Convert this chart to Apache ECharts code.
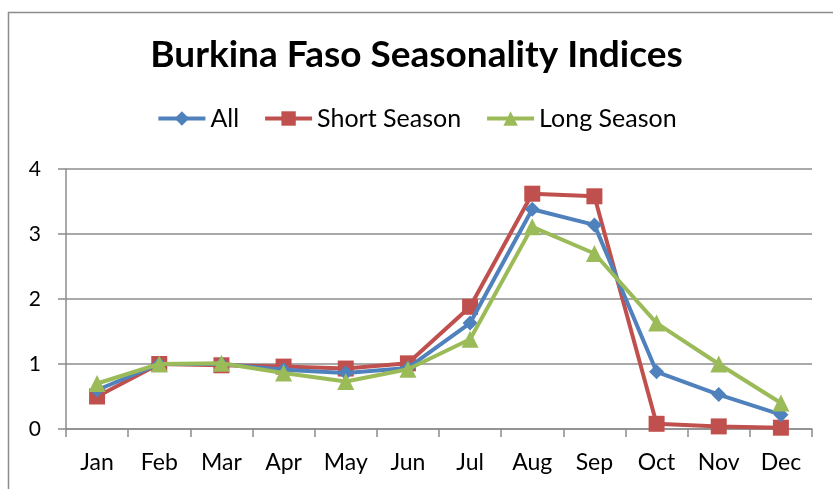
<!DOCTYPE html>
<html>
<head>
<meta charset="utf-8">
<script src="https://cdn.jsdelivr.net/npm/echarts@6/dist/echarts.min.js"></script>
<style>
html,body{margin:0;padding:0;background:#fff;}
#main{width:833px;height:489px;}
</style>
</head>
<body>
<div id="main"></div>
<script>
var months = ['Jan','Feb','Mar','Apr','May','Jun','Jul','Aug','Sep','Oct','Nov','Dec'];
var allVals = [0.60,1.00,1.00,0.91,0.86,0.94,1.63,3.38,3.14,0.88,0.53,0.22];
var shortVals = [0.50,1.00,0.98,0.96,0.93,1.01,1.88,3.62,3.58,0.08,0.04,0.02];
var longVals = [0.70,1.00,1.01,0.86,0.73,0.92,1.38,3.11,2.70,1.63,1.00,0.40];
var yTicks = [0,1,2,3,4];

var font = 'Lato, "Open Sans", sans-serif';

var chart = echarts.init(document.getElementById('main'));
var option = {
    animation: false,
    graphic: [{
        type: 'rect',
        shape: {x: 8.5, y: 12.5, width: 900, height: 600},
        style: {fill: 'none', stroke: '#8c8c8c', lineWidth: 1.5},
        silent: true
    }],
    title: {
        text: 'Burkina Faso Seasonality Indices',
        left: 'center',
        top: 32,
        textStyle: {fontFamily: font, fontSize: 37, fontWeight: 'bold', color: '#000'}
    },
    legend: {
        top: 101,
        left: 'center',
        itemWidth: 47,
        itemHeight: 18,
        itemGap: 24,
        lineStyle: {width: 4},
        textStyle: {fontFamily: font, fontSize: 25, color: '#000'},
        data: ['All','Short Season','Long Season']
    },
    grid: {left: 66, right: 21, top: 169, bottom: 60},
    xAxis: {
        type: 'category',
        data: months,
        boundaryGap: true,
        axisLine: {lineStyle: {color: '#8c8c8c', width: 1.5}},
        axisTick: {show: true, length: 8, lineStyle: {color: '#8c8c8c', width: 1.5}},
        axisLabel: {fontFamily: font, fontSize: 23, color: '#000', margin: 22}
    },
    yAxis: {
        type: 'value',
        min: yTicks[0],
        max: yTicks[yTicks.length - 1],
        interval: 1,
        axisLine: {show: true, lineStyle: {color: '#8c8c8c', width: 1.5}},
        axisTick: {show: true, length: 8, lineStyle: {color: '#8c8c8c', width: 1.5}},
        axisLabel: {fontFamily: font, fontSize: 21, color: '#000', margin: 25},
        splitLine: {lineStyle: {color: '#8c8c8c', width: 1.5}}
    },
    series: [
        {
            name: 'All', type: 'line', data: allVals,
            symbol: 'diamond', symbolSize: 15,
            lineStyle: {width: 4, color: '#4F81BD'},
            itemStyle: {color: '#4F81BD'}, z: 3
        },
        {
            name: 'Short Season', type: 'line', data: shortVals,
            symbol: 'rect', symbolSize: 16,
            lineStyle: {width: 4, color: '#C0504D'},
            itemStyle: {color: '#C0504D'}, z: 2
        },
        {
            name: 'Long Season', type: 'line', data: longVals,
            symbol: 'triangle', symbolSize: 17,
            lineStyle: {width: 4, color: '#9BBB59'},
            itemStyle: {color: '#9BBB59'}, z: 4
        }
    ]
};
chart.setOption(option);
</script>
</body>
</html>
